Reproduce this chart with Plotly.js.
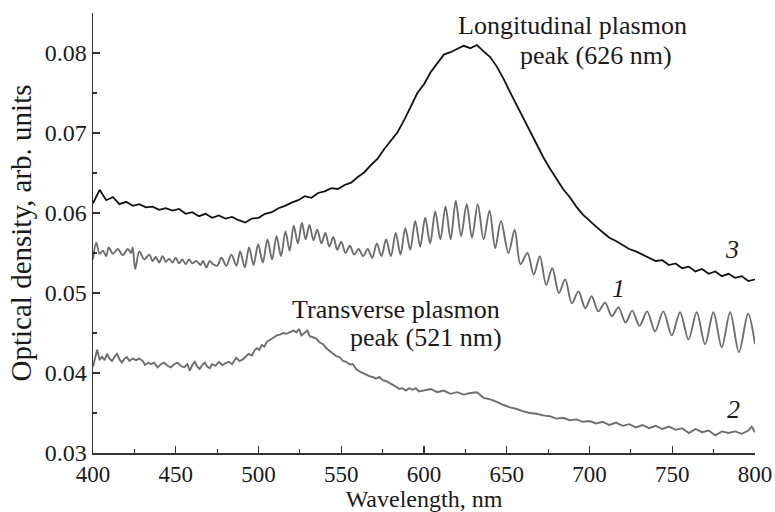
<!DOCTYPE html>
<html>
<head>
<meta charset="utf-8">
<script src="https://cdn.plot.ly/plotly-3.0.1.min.js"></script>
<style>html,body{margin:0;padding:0;background:#fff;}#chart{width:775px;height:512px;}</style>
</head>
<body>
<div id="chart"></div>
<script>
// Curve 3 (black)
const wl3 = [400,404,408,412,416,420,424,428,432,436,440,444,448,452,456,460,464,468,472,476,480,484,488,492,496,500,504,508,512,516,520,524,528,532,536,540,544,548,552,556,560,564,568,572,576,580,584,588,592,596,600,604,608,612,616,620,624,628,632,636,640,644,648,652,656,660,664,668,672,676,680,684,688,692,696,700,704,708,712,716,720,724,728,732,736,740,744,748,752,756,760,764,768,772,776,780,784,788,792,796,800];
const od3 = [0.0612,0.0629,0.0616,0.0620,0.0611,0.0614,0.0609,0.0611,0.0607,0.0608,0.0604,0.0606,0.0603,0.0605,0.0599,0.0601,0.0596,0.0599,0.0594,0.0597,0.0593,0.0595,0.0591,0.0588,0.0593,0.0594,0.0599,0.0601,0.0606,0.0609,0.0613,0.0616,0.0621,0.0619,0.0625,0.0627,0.0631,0.0630,0.0635,0.0638,0.0645,0.0651,0.0660,0.0668,0.0680,0.0691,0.0701,0.0716,0.0733,0.0750,0.0761,0.0776,0.0787,0.0798,0.0801,0.0805,0.0809,0.0806,0.0810,0.0802,0.0795,0.0783,0.0768,0.0751,0.0735,0.0718,0.0701,0.0686,0.0670,0.0656,0.0643,0.0630,0.0620,0.0608,0.0598,0.0590,0.0583,0.0576,0.0569,0.0565,0.0560,0.0555,0.0552,0.0548,0.0545,0.0540,0.0541,0.0535,0.0537,0.0531,0.0533,0.0527,0.0530,0.0524,0.0527,0.0521,0.0524,0.0519,0.0521,0.0515,0.0517];

// Curve 1 (grey, with interference fringes) – peaks and troughs
const wl1 = [400,402,404,406,408,409.5,412,415,418,421,423,424,425.5,428,431,434,436,438,440,442,444,446,448,450,452,454,456,458,460,462.5,465,466.5,468.5,470.5,472.5,475,477.6,480.6,483.6,486.7,488.9,491.7,494.3,497,499.8,502.6,505.4,508.2,510.9,513.6,516.3,518.8,521.3,523.8,526.2,528.5,530.8,533.2,535.5,538,540.4,542.8,545.2,547.6,550,552.6,555.2,557.8,560.5,563.2,566,568.7,571.5,574.3,577.1,580,582.9,585.8,588.7,591.7,594.7,597.7,600.7,603.7,606.8,609.9,613,616.1,619.2,622.4,625.8,629,632.5,636,639.6,643,646.5,651,654.8,658.3,662.5,666.3,670,673.8,677.5,681.5,685.3,689.3,693.3,697.5,701.3,705.3,709.4,713.5,717.5,721.8,725.8,730.2,734.8,739.6,744.6,749.7,754.7,759.8,764.8,769.8,774.9,779.9,785,790.3,795.8,800];
const od1 = [0.0542,0.0563,0.0549,0.0553,0.0546,0.0557,0.0549,0.0555,0.0547,0.0555,0.0550,0.0557,0.0530,0.0552,0.0542,0.0548,0.0540,0.0545,0.0538,0.0546,0.0539,0.0543,0.0538,0.0544,0.0537,0.0542,0.0536,0.0542,0.0537,0.0540,0.0535,0.0540,0.0532,0.0540,0.0536,0.0534,0.0544,0.0534,0.0548,0.0534,0.0552,0.0532,0.0557,0.0535,0.0561,0.0538,0.0567,0.0542,0.0571,0.0546,0.0577,0.0553,0.0584,0.0562,0.0588,0.0567,0.0585,0.0566,0.0579,0.0562,0.0575,0.0558,0.0570,0.0554,0.0564,0.0550,0.0559,0.0548,0.0555,0.0546,0.0555,0.0544,0.0562,0.0546,0.0567,0.0546,0.0575,0.0548,0.0581,0.0554,0.0590,0.0558,0.0594,0.0562,0.0602,0.0567,0.0608,0.0567,0.0615,0.0571,0.0611,0.0569,0.0611,0.0567,0.0603,0.0556,0.0590,0.0550,0.0579,0.0536,0.0550,0.0523,0.0546,0.0510,0.0531,0.0500,0.0517,0.0487,0.0502,0.0481,0.0496,0.0477,0.0488,0.0471,0.0482,0.0463,0.0478,0.0459,0.0477,0.0452,0.0477,0.0447,0.0476,0.0442,0.0476,0.0436,0.0476,0.0432,0.0476,0.0426,0.0474,0.0436];

// Curve 2 (grey)
const wl2 = [400,401.5,402.5,404,405.5,407,408.5,410,411.5,413,414.5,416,417.5,419,420.5,422,424,426,428,430,431.5,433.5,435,437,439,441,443,445,447,449,451,453,455,457,458.5,460,461.5,463,464.5,466,467.5,469,470.5,472,474,476,478,480,482,484,486.5,488.5,490.5,492.5,494,496,497.5,499,500.5,502,503.5,505,507,509,511,513,515,517,519,521,523,524.5,526,528,529.5,531,533,535,537,539,541,543,545,547,549,551,553,555,557,559,561,563,565,567,569,571,573,575,577,579,581,583,585,587,589,591,593,595,597,600,604,608,612,616,620,624,628,632,636,640,644,648,652,656,660,664,668,672,676,680,684,688,692,696,700,704,708,712,716,720,724,728,732,736,740,744,748,752,756,760,764,768,772,776,780,784,788,792,796,798,800];
const od2 = [0.0408,0.0422,0.0429,0.0417,0.0420,0.0416,0.0424,0.0418,0.0415,0.0420,0.0424,0.0417,0.0413,0.0418,0.0420,0.0415,0.0418,0.0416,0.0418,0.0415,0.0410,0.0413,0.0411,0.0413,0.0407,0.0411,0.0413,0.0409,0.0407,0.0411,0.0413,0.0409,0.0407,0.0411,0.0403,0.0410,0.0414,0.0408,0.0405,0.0410,0.0413,0.0408,0.0406,0.0411,0.0409,0.0414,0.0410,0.0412,0.0414,0.0411,0.0419,0.0415,0.0417,0.0421,0.0424,0.0422,0.0428,0.0431,0.0429,0.0435,0.0433,0.0439,0.0441,0.0444,0.0447,0.0448,0.0450,0.0449,0.0451,0.0453,0.0451,0.0455,0.0447,0.0450,0.0453,0.0446,0.0444,0.0443,0.0438,0.0436,0.0431,0.0428,0.0425,0.0421,0.0420,0.0415,0.0414,0.0411,0.0411,0.0405,0.0402,0.0400,0.0397,0.0396,0.0395,0.0393,0.0395,0.0391,0.0390,0.0388,0.0386,0.0383,0.0380,0.0381,0.0378,0.0381,0.0379,0.0381,0.0377,0.0378,0.0380,0.0376,0.0378,0.0374,0.0376,0.0373,0.0375,0.0376,0.0369,0.0367,0.0364,0.0360,0.0357,0.0355,0.0352,0.0350,0.0349,0.0347,0.0346,0.0343,0.0344,0.0341,0.0342,0.0339,0.0340,0.0337,0.0339,0.0335,0.0338,0.0334,0.0336,0.0332,0.0335,0.0331,0.0334,0.0330,0.0333,0.0329,0.0331,0.0325,0.0330,0.0326,0.0328,0.0322,0.0327,0.0325,0.0327,0.0324,0.0328,0.0333,0.0326];

const curveLabels = ['1','2','3'];
const labelX = [717.5,787,786];
const labelY = [0.0506,0.0354,0.0554];

const serif = 'Liberation Serif';
const grey = '#6e6e6e';

const traces = [
  {x: wl3, y: od3, mode:'lines', line:{color:'#111111', width:1.8}, hoverinfo:'skip'},
  {x: wl1, y: od1, mode:'lines', line:{color:grey, width:1.9, shape:'spline', smoothing:0.9}, hoverinfo:'skip'},
  {x: wl2, y: od2, mode:'lines', line:{color:grey, width:1.9}, hoverinfo:'skip'}
];

const annFont = {family: serif, size: 26, color:'#1a1a1a'};
const annotations = [
  {x:689.7, y:0.0835, xref:'x', yref:'y', text:'Longitudinal plasmon', showarrow:false, font:annFont},
  {x:704, y:0.0797, xref:'x', yref:'y', text:'peak (626 nm)', showarrow:false, font:annFont},
  {x:583, y:0.0480, xref:'x', yref:'y', text:'Transverse plasmon', showarrow:false, font:annFont},
  {x:601, y:0.0445, xref:'x', yref:'y', text:'peak (521 nm)', showarrow:false, font:annFont}
];
curveLabels.forEach((t,i)=>annotations.push({x:labelX[i], y:labelY[i], xref:'x', yref:'y', text:'<i>'+t+'</i>', showarrow:false, font:annFont}));

const axisCommon = {
  showline:true, linecolor:'#333', linewidth:1.5, mirror:false,
  ticks:'inside', ticklen:7, tickwidth:1.3, tickcolor:'#333',
  showgrid:false, zeroline:false,
  tickfont:{family:serif, size:24, color:'#1a1a1a'}
};

const layout = {
  width:775, height:512,
  margin:{l:93, r:20, t:13, b:59},
  paper_bgcolor:'#ffffff', plot_bgcolor:'#ffffff',
  showlegend:false,
  font:{family:serif, color:'#1a1a1a'},
  xaxis: Object.assign({}, axisCommon, {
    range:[400,800], dtick:50, tick0:400,
    ticklabelstandoff:0,
    tickfont:{family:serif, size:23, color:'#1a1a1a'},
    minor:{dtick:25, ticks:'inside', ticklen:4, tickwidth:1.2, tickcolor:'#333'},
    title:{text:'Wavelength, nm', font:{family:serif, size:24, color:'#1a1a1a'}, standoff:3}
  }),
  yaxis: Object.assign({}, axisCommon, {
    range:[0.03,0.085], dtick:0.01, tick0:0.03, tickformat:'.2f',
    minor:{dtick:0.005, ticks:'inside', ticklen:4, tickwidth:1.2, tickcolor:'#333'},
    title:{text:'Optical density, arb. units', font:{family:serif, size:29, color:'#1a1a1a'}, standoff:4}
  }),
  annotations: annotations
};

Plotly.newPlot('chart', traces, layout, {staticPlot:true, displayModeBar:false});
</script>
</body>
</html>
